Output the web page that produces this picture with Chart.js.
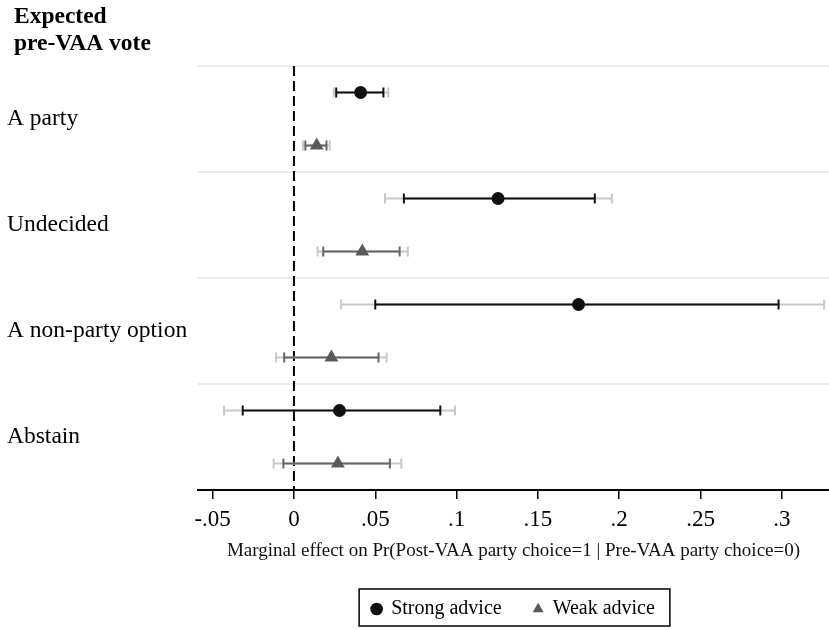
<!DOCTYPE html>
<html>
<head>
<meta charset="utf-8">
<script src="https://cdn.jsdelivr.net/npm/chart.js@4.4.1/dist/chart.umd.min.js"></script>
<style>
  html, body { margin: 0; padding: 0; background: #fff; }
  #wrap { width: 829px; height: 630px; }
</style>
</head>
<body>
<div id="wrap"><canvas id="coefplot" width="829" height="630"></canvas></div>
<script>
// ---- data ----
const categories = ['A party', 'Undecided', 'A non-party option', 'Abstain'];

const strongEst   = [0.041, 0.1255, 0.175, 0.028];
const strongLo90  = [0.026, 0.0676, 0.050, -0.0315];
const strongHi90  = [0.055, 0.185, 0.298, 0.090];
const strongLo95  = [0.0245, 0.056, 0.029, -0.043];
const strongHi95  = [0.058, 0.1955, 0.326, 0.099];

const weakEst     = [0.014, 0.042, 0.023, 0.027];
const weakLo90    = [0.007, 0.018, -0.006, -0.0065];
const weakHi90    = [0.020, 0.065, 0.052, 0.059];
const weakLo95    = [0.0055, 0.0145, -0.011, -0.0125];
const weakHi95    = [0.022, 0.070, 0.057, 0.066];

const xTicks = [-0.05, 0, 0.05, 0.1, 0.15, 0.2, 0.25, 0.3];
const xTickLabels = ['-.05', '0', '.05', '.1', '.15', '.2', '.25', '.3'];

Chart.defaults.font.family = "'Liberation Serif', 'Times New Roman', serif";
Chart.defaults.color = '#000';

// each category takes 4 rows: separator, strong, label, weak
function rowOf(i, s) { return i * 4 + 1 + 2 * s; }

const ciPlugin = {
    id: 'ciPlugin',
    beforeDatasetsDraw(chart) {
        const ctx = chart.ctx;
        const xs = chart.scales.x, ys = chart.scales.y;
        const area = chart.chartArea;
        ctx.save();
        // zero reference line
        ctx.strokeStyle = '#000';
        ctx.lineWidth = 2;
        ctx.setLineDash([10, 5]);
        ctx.beginPath();
        ctx.moveTo(xs.getPixelForValue(0), area.top);
        ctx.lineTo(xs.getPixelForValue(0), area.bottom);
        ctx.stroke();
        ctx.setLineDash([]);

        const series = [
            {lo95: strongLo95, hi95: strongHi95, lo90: strongLo90, hi90: strongHi90, color: '#111111'},
            {lo95: weakLo95, hi95: weakHi95, lo90: weakLo90, hi90: weakHi90, color: '#666666'}
        ];
        function bar(lo, hi, y, color) {
            const x1 = xs.getPixelForValue(lo), x2 = xs.getPixelForValue(hi);
            ctx.strokeStyle = color;
            ctx.lineWidth = 2;
            ctx.beginPath();
            ctx.moveTo(x1, y); ctx.lineTo(x2, y);
            ctx.moveTo(x1, y - 5); ctx.lineTo(x1, y + 5);
            ctx.moveTo(x2, y - 5); ctx.lineTo(x2, y + 5);
            ctx.stroke();
        }
        series.forEach((s, si) => {
            categories.forEach((c, i) => {
                const y = ys.getPixelForValue(rowOf(i, si));
                bar(s.lo95[i], s.hi95[i], y, '#c8c8c8');
                bar(s.lo90[i], s.hi90[i], y, s.color);
            });
        });
        ctx.restore();
    },
    afterDraw(chart) {
        const ctx = chart.ctx;
        ctx.save();
        // header above the category labels
        ctx.fillStyle = '#000';
        ctx.font = "bold 23.5px 'Liberation Serif'";
        ctx.textBaseline = 'alphabetic';
        ctx.fillText('Expected', 14, 23);
        ctx.fillText('pre-VAA vote', 14, 50);
        // box around the legend
        const hb = chart.legend.legendHitBoxes;
        if (hb && hb.length) {
            const left = Math.min(...hb.map(h => h.left)) - 13;
            const right = Math.max(...hb.map(h => h.left + h.width)) + 15;
            const top = hb[0].top - 10;
            const bottom = hb[0].top + hb[0].height + 7;
            ctx.strokeStyle = '#000';
            ctx.lineWidth = 1.5;
            ctx.strokeRect(left, top, right - left, bottom - top);
        }
        ctx.restore();
    }
};

new Chart(document.getElementById('coefplot'), {
    type: 'scatter',
    data: {
        datasets: [
            {
                label: 'Strong advice',
                data: strongEst.map((v, i) => ({x: v, y: rowOf(i, 0)})),
                pointStyle: 'circle',
                pointRadius: 6.5,
                backgroundColor: '#111111',
                borderColor: '#111111',
                borderWidth: 0
            },
            {
                label: 'Weak advice',
                data: weakEst.map((v, i) => ({x: v, y: rowOf(i, 1)})),
                pointStyle: 'triangle',
                pointRadius: 8,
                backgroundColor: '#5a5a5a',
                borderColor: '#5a5a5a',
                borderWidth: 0
            }
        ]
    },
    options: {
        responsive: false,
        animation: false,
        layout: { autoPadding: false, padding: { left: 7, right: 0, top: 66, bottom: 1 } },
        scales: {
            x: {
                type: 'linear',
                min: -0.059,
                max: 0.329,
                afterBuildTicks: (scale) => { scale.ticks = xTicks.map(v => ({value: v})); },
                afterFit: (scale) => { scale.paddingRight = 0; scale.paddingLeft = 0; },
                ticks: {
                    font: { size: 23, lineHeight: 1.0 },
                    color: '#000',
                    padding: 9,
                    maxRotation: 0,
                    callback: (value) => {
                        const k = xTicks.findIndex(t => Math.abs(t - value) < 1e-9);
                        return k >= 0 ? xTickLabels[k] : '';
                    }
                },
                grid: {
                    display: true,
                    drawOnChartArea: false,
                    drawTicks: true,
                    tickLength: 9,
                    color: '#000',
                    lineWidth: 1.5
                },
                border: { display: true, color: '#000', width: 2 },
                title: {
                    display: true,
                    text: 'Marginal effect on Pr(Post-VAA party choice=1 | Pre-VAA party choice=0)',
                    font: { size: 19, lineHeight: 1.0 },
                    color: '#111',
                    padding: { top: 2, bottom: 6 }
                }
            },
            y: {
                type: 'linear',
                min: 0,
                max: 16,
                reverse: true,
                afterBuildTicks: (scale) => {
                    scale.ticks = [0, 2, 4, 6, 8, 10, 12, 14].map(v => ({value: v}));
                },
                afterFit: (scale) => { scale.width = 191; },
                ticks: {
                    font: { size: 23.5 },
                    color: '#000',
                    crossAlign: 'far',
                    callback: (value) => value % 4 === 2 ? categories[(value - 2) / 4] : ''
                },
                grid: {
                    drawTicks: false,
                    lineWidth: 2,
                    color: (ctx) => (ctx.tick && ctx.tick.value % 4 === 0) ? '#ebebeb' : 'rgba(0,0,0,0)'
                },
                border: { display: false }
            }
        },
        plugins: {
            legend: {
                position: 'bottom',
                fullSize: false,
                labels: {
                    usePointStyle: true,
                    boxWidth: 9,
                    boxHeight: 9,
                    padding: 32,
                    font: { size: 20 },
                    color: '#000'
                }
            },
            tooltip: { enabled: false }
        }
    },
    plugins: [ciPlugin]
});
</script>
</body>
</html>
